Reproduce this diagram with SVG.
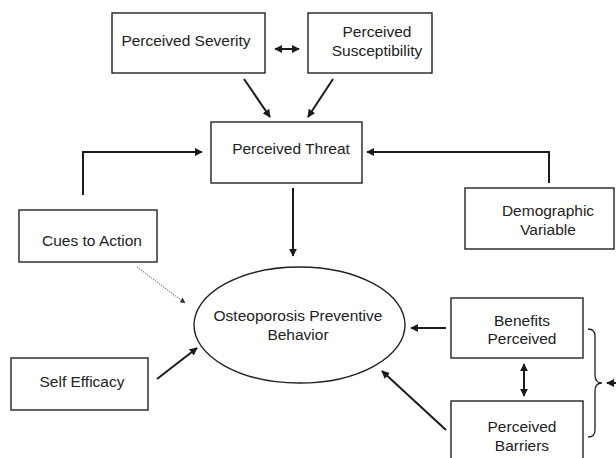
<svg xmlns="http://www.w3.org/2000/svg" width="616" height="458" viewBox="0 0 616 458">
<defs>
<marker id="ah" viewBox="0 0 10 10" refX="9" refY="5" markerWidth="4" markerHeight="4" orient="auto-start-reverse" markerUnits="strokeWidth">
<path d="M0,0 L10,5 L0,10 z" fill="#1a1a1a"/>
</marker>
<marker id="ahs" viewBox="0 0 10 10" refX="9" refY="5" markerWidth="7" markerHeight="7" orient="auto" markerUnits="strokeWidth">
<path d="M0,0 L10,5 L0,10 z" fill="#333"/>
</marker>
<style>
.box{fill:#fff;stroke:#222;stroke-width:1.4}
.t{font-family:"Liberation Sans",Arial,sans-serif;font-size:15.5px;fill:#222;text-anchor:middle}
.c{fill:none;stroke:#1a1a1a;stroke-width:2}
</style>
</defs>
<rect width="616" height="458" fill="#fff"/>
<g id="connectors">
<line class="c" x1="275" y1="49" x2="299" y2="49" marker-start="url(#ah)" marker-end="url(#ah)"/>
<line class="c" x1="244" y1="79" x2="270" y2="117" marker-end="url(#ah)"/>
<line class="c" x1="333" y1="79" x2="308" y2="117" marker-end="url(#ah)"/>
<polyline class="c" points="83,195 83,152 202,152" marker-end="url(#ah)"/>
<polyline class="c" points="549,183 549,152 367,152" marker-end="url(#ah)"/>
<line class="c" x1="293" y1="188" x2="293" y2="256" marker-end="url(#ah)"/>
<line x1="137" y1="267" x2="185" y2="303" stroke="#444" stroke-width="0.8" stroke-dasharray="1.5,1" marker-end="url(#ahs)"/>
<line class="c" x1="446" y1="328" x2="411" y2="328" marker-end="url(#ah)"/>
<line class="c" x1="524" y1="364" x2="524" y2="396" marker-start="url(#ah)" marker-end="url(#ah)"/>
<line class="c" x1="446" y1="430" x2="382" y2="371" marker-end="url(#ah)"/>
<line class="c" x1="157" y1="379" x2="197" y2="348" marker-end="url(#ah)"/>
<path d="M588,329 Q595,329 595,336 L595,375 Q595,383 602,383 Q595,383 595,391 L595,430 Q595,437 588,437" fill="none" stroke="#222" stroke-width="1.3"/>
<line class="c" x1="616" y1="383" x2="607" y2="383" marker-end="url(#ah)"/>
</g>
<g id="severity"><rect class="box" x="112" y="13" width="153" height="60"/><text class="t" x="186" y="45.5">Perceived Severity</text></g>
<g id="susceptibility"><rect class="box" x="308" y="13" width="124" height="60"/><text class="t" x="377" y="36.5">Perceived</text><text class="t" x="377" y="55.5">Susceptibility</text></g>
<g id="threat"><rect class="box" x="211" y="122" width="151" height="61"/><text class="t" x="291" y="153.5">Perceived Threat</text></g>
<g id="cues"><rect class="box" x="19" y="210" width="138" height="52"/><text class="t" x="92" y="245.5">Cues to Action</text></g>
<g id="demographic"><rect class="box" x="465" y="188" width="149" height="61"/><text class="t" x="548" y="215.5">Demographic</text><text class="t" x="548" y="234.5">Variable</text></g>
<g id="behavior"><ellipse cx="299.5" cy="325" rx="105.5" ry="58" fill="#fff" stroke="#222" stroke-width="1.4"/><text class="t" x="298" y="320.5">Osteoporosis Preventive</text><text class="t" x="298" y="339.5">Behavior</text></g>
<g id="benefits"><rect class="box" x="451" y="298" width="132" height="60"/><text class="t" x="522" y="325.5">Benefits</text><text class="t" x="522" y="343.5">Perceived</text></g>
<g id="barriers"><rect class="box" x="451" y="401" width="132" height="60"/><text class="t" x="522" y="431.5">Perceived</text><text class="t" x="522" y="450.5">Barriers</text></g>
<g id="selfefficacy"><rect class="box" x="11" y="358" width="137" height="52"/><text class="t" x="82" y="386.5">Self Efficacy</text></g>
</svg>
